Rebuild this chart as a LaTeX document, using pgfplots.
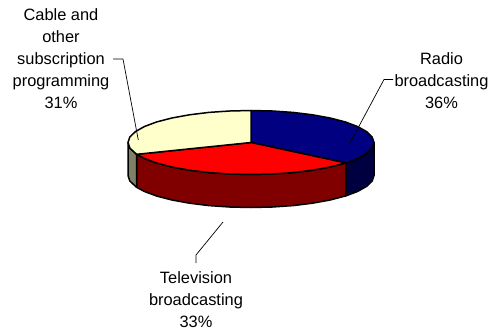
\documentclass[border=0pt]{standalone}
\usepackage{pgfplots}
\pgfplotsset{compat=1.18}
\usepackage{fontspec}
\setmainfont{Liberation Sans}
\definecolor{navytop}{HTML}{000080}
\definecolor{navyside}{HTML}{000040}
\definecolor{redtop}{HTML}{FF0000}
\definecolor{redside}{HTML}{800000}
\definecolor{creamtop}{HTML}{FFFFCC}
\definecolor{creamside}{HTML}{808066}
\tikzset{
  slice/.style={draw=black, line width=1.5pt},
  leader/.style={draw=black, line width=0.7pt},
  lbl/.style={align=center, inner sep=0pt, text=black, font=\fontsize{16.4}{22}\selectfont},
}
\begin{document}
\begin{tikzpicture}
\begin{axis}[
  scale only axis, width=496pt, height=332pt,
  xmin=0, xmax=496, ymin=0, ymax=332, y dir=reverse,
  hide axis, clip=false,
  every axis plot/.append style={no markers, line join=round},
]
\path[use as bounding box] (axis cs:0,0) rectangle (axis cs:496,332);
% side walls
\addplot[slice, fill=navyside] coordinates {
(374,142.5)(372.1,148.1)(366.6,153.4)(357.5,158.5)(345.8,162.9)
(345.8,195.9)(357.5,191.5)(366.6,186.4)(372.1,181.1)(374,175.5)} -- cycle;
\addplot[slice, fill=redside] coordinates {
(345.8,162.9)(330.1,167.0)(312.5,170.2)(293.1,172.6)(272.4,174.0)(251,174.5)(229.6,174.0)(208.9,172.6)(189.5,170.2)(171.9,167.0)(156.8,163.1)(144.5,158.5)(136.6,154.3)
(136.6,187.3)(144.5,191.5)(156.8,196.1)(171.9,200.0)(189.5,203.2)(208.9,205.6)(229.6,207.0)(251,207.5)(272.4,207.0)(293.1,205.6)(312.5,203.2)(330.1,200.0)(345.8,195.9)} -- cycle;
\addplot[slice, fill=creamside] coordinates {
(136.6,154.3)(129.9,148.1)(128,142.5)
(128,175.5)(129.9,181.1)(136.6,187.3)} -- cycle;
% top faces
\addplot[slice, fill=navytop] coordinates {
(251,142.5)(251,110.5)(272.4,111.0)(293.1,112.4)(312.5,114.8)(330.1,118.0)(345.2,121.9)(357.5,126.5)(366.6,131.6)(372.1,137.0)(374,142.5)(372.1,148.1)(366.6,153.4)(357.5,158.5)(345.8,162.9)} -- cycle;
\addplot[slice, fill=redtop] coordinates {
(251,142.5)(345.8,162.9)(330.1,167.0)(312.5,170.2)(293.1,172.6)(272.4,174.0)(251,174.5)(229.6,174.0)(208.9,172.6)(189.5,170.2)(171.9,167.0)(156.8,163.1)(144.5,158.5)(136.6,154.3)} -- cycle;
\addplot[slice, fill=creamtop] coordinates {
(251,142.5)(136.6,154.3)(129.9,148.1)(128,142.5)(129.9,136.9)(135.4,131.6)(144.5,126.5)(156.8,121.9)(171.9,118.0)(189.5,114.8)(208.9,112.4)(229.6,111.0)(251,110.5)} -- cycle;
% leader lines
\addplot[leader] coordinates {(393,79.5)(384,79.5)(350,143)};
\addplot[leader] coordinates {(196,263)(196,255)(223,222)};
\addplot[leader] coordinates {(113,59)(123,59)(138.3,140)};
% labels
\node[lbl] at (axis cs:441.5,80.5) {Radio\\broadcasting\\36\%};
\node[lbl] at (axis cs:196,300) {Television\\broadcasting\\33\%};
\node[lbl] at (axis cs:61,59) {Cable and\\other\\subscription\\programming\\31\%};
\end{axis}
\end{tikzpicture}
\end{document}
